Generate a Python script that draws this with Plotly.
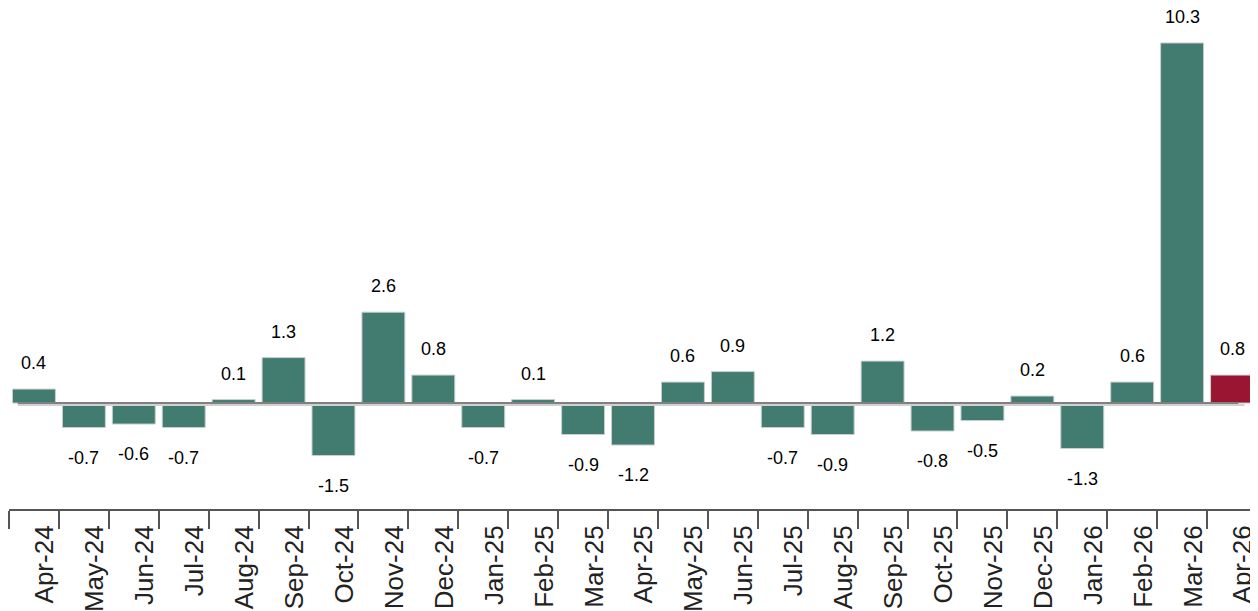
import plotly.graph_objects as go

months = ["Apr-24", "May-24", "Jun-24", "Jul-24", "Aug-24", "Sep-24", "Oct-24", "Nov-24",
          "Dec-24", "Jan-25", "Feb-25", "Mar-25", "Apr-25", "May-25", "Jun-25", "Jul-25",
          "Aug-25", "Sep-25", "Oct-25", "Nov-25", "Dec-25", "Jan-26", "Feb-26", "Mar-26", "Apr-26"]
values = [0.4, -0.7, -0.6, -0.7, 0.1, 1.3, -1.5, 2.6, 0.8, -0.7, 0.1, -0.9, -1.2, 0.6, 0.9,
          -0.7, -0.9, 1.2, -0.8, -0.5, 0.2, -1.3, 0.6, 10.3, 0.8]

TEAL = "#427c71"
RED = "#9a1532"
colors = [TEAL] * (len(values) - 1) + [RED]

fig = go.Figure()
fig.add_trace(go.Bar(
    x=months, y=values, width=0.86,
    marker=dict(color=colors, line=dict(color="#c8cfcc", width=1)),
    hoverinfo="x+y",
))

for m, v in zip(months, values):
    fig.add_annotation(
        x=m, y=v, text=f"{v:.1f}", showarrow=False,
        yanchor="middle", yshift=26 if v >= 0 else -30,
        font=dict(family="Liberation Sans, Arial, sans-serif", size=18, color="#000000"),
    )

# zero line (drawn above bars) with light shadow
fig.add_shape(type="line", xref="paper", x0=0.007, x1=0.99, yref="y",
              ysizemode="pixel", yanchor=0, y0=-2, y1=-2,
              line=dict(color="#d0d0d0", width=2), layer="above")
fig.add_shape(type="line", xref="paper", x0=0.007, x1=0.985, yref="y", y0=0, y1=0,
              line=dict(color="#808080", width=2), layer="above")

fig.update_layout(
    width=1258, height=611,
    margin=dict(l=1, r=9, t=0, b=110, autoexpand=False),
    plot_bgcolor="white", paper_bgcolor="white",
    showlegend=False,
    bargap=0.14,
    xaxis=dict(
        type="category", tickangle=-90, tickson="boundaries",
        ticks="outside", ticklen=18, tickwidth=2, tickcolor="#555555",
        showline=True, linecolor="#555555", linewidth=2,
        showgrid=False, zeroline=False, automargin=False,
        ticklabelshift=11, ticklabelstandoff=4,
        tickfont=dict(family="Liberation Sans, Arial, sans-serif", size=26, color="#222222"),
        range=[-0.5, 24.5],
    ),
    yaxis=dict(
        range=[-3.03, 11.30], showgrid=False, zeroline=False, automargin=False,
        showticklabels=False, showline=False, ticks="",
    ),
)

fig.write_html("out.html")
